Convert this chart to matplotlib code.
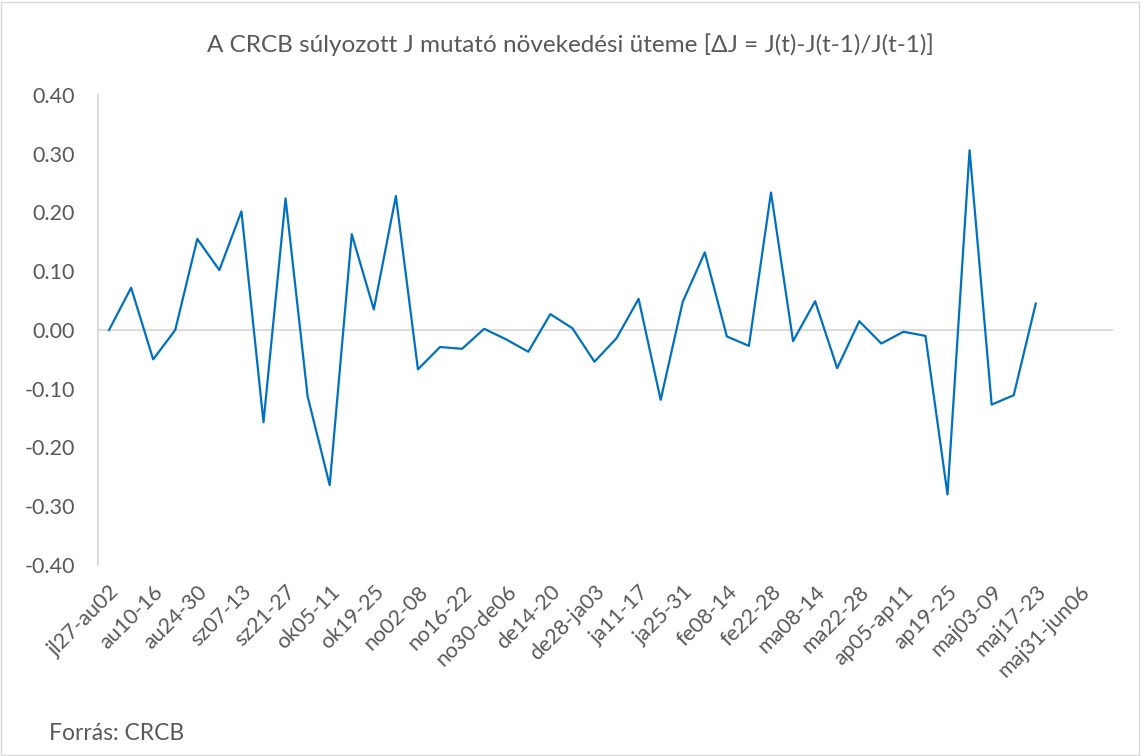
import numpy as np
import matplotlib.pyplot as plt
from matplotlib.patches import Rectangle

plt.rcParams['font.family'] = ['Lato', 'DejaVu Sans']

weeks = ["jl27-au02", "au03-09", "au10-16", "au17-23", "au24-30", "au31-sz06",
         "sz07-13", "sz14-20", "sz21-27", "sz28-ok04", "ok05-11", "ok12-18",
         "ok19-25", "ok26-no01", "no02-08", "no09-15", "no16-22", "no23-29",
         "no30-de06", "de07-13", "de14-20", "de21-27", "de28-ja03", "ja04-10",
         "ja11-17", "ja18-24", "ja25-31", "fe01-07", "fe08-14", "fe15-21",
         "fe22-28", "ma01-07", "ma08-14", "ma15-21", "ma22-28", "ma29-ap04",
         "ap05-ap11", "ap12-18", "ap19-25", "ap26-maj02", "maj03-09", "maj10-16",
         "maj17-23", "maj24-30", "maj31-jun06", "jun07-13"]

# növekedési ütem, heti adatok (az utolsó hetekhez nincs érték)
delta_j = [0.000, 0.072, -0.050, 0.000, 0.155, 0.102, 0.202, -0.157, 0.224,
           -0.113, -0.264, 0.163, 0.035, 0.228, -0.067, -0.029, -0.032, 0.002,
           -0.016, -0.037, 0.027, 0.003, -0.054, -0.014, 0.053, -0.119, 0.048,
           0.132, -0.011, -0.027, 0.234, -0.019, 0.049, -0.065, 0.015, -0.023,
           -0.003, -0.010, -0.280, 0.306, -0.127, -0.111, 0.045]

yticks = [-0.4, -0.3, -0.2, -0.1, 0.0, 0.1, 0.2, 0.3, 0.4]

gray = "#595959"

fig = plt.figure(figsize=(11.41, 7.56), dpi=100)
ax = fig.add_axes([98/1141, 1 - 565/756, (1113-98)/1141, (565-95)/756])

x = np.arange(len(delta_j))
ax.plot(x, delta_j, color="#0070C0", lw=1.6)
ax.axhline(0, color="#D9D9D9", lw=1.3, zorder=0)

ax.set_xlim(-0.5, len(weeks) - 0.5)
ax.set_ylim(-0.4, 0.4)
ax.set_yticks(yticks)
ax.set_yticklabels([f"{v:.2f}" for v in yticks])
ax.set_xticks(range(0, len(weeks), 2))
ax.set_xticklabels(weeks[::2], rotation=45, ha='right', rotation_mode='anchor')

for s in ["top", "right", "bottom"]:
    ax.spines[s].set_visible(False)
ax.spines["left"].set_color("#D9D9D9")
ax.spines["left"].set_linewidth(1.3)
ax.tick_params(axis='both', length=0, colors=gray)
ax.tick_params(axis='y', pad=16.5, labelsize=15.5)
ax.tick_params(axis='x', pad=12, labelsize=15.5)

fig.text(0.5, 1 - 45/756, "A CRCB súlyozott J mutató növekedési üteme [ΔJ = J(t)-J(t-1)/J(t-1)]",
         ha='center', va='center', color=gray, fontsize=17.5)
fig.text(49/1141, 1 - 733/756, "Forrás: CRCB", ha='left', va='center', color=gray, fontsize=16.5)

fig.patches.append(Rectangle((0.001, 0.001), 0.997, 0.997, transform=fig.transFigure,
                             fill=False, edgecolor="#D9D9D9", lw=1))

fig.savefig("out.png", dpi=100)
